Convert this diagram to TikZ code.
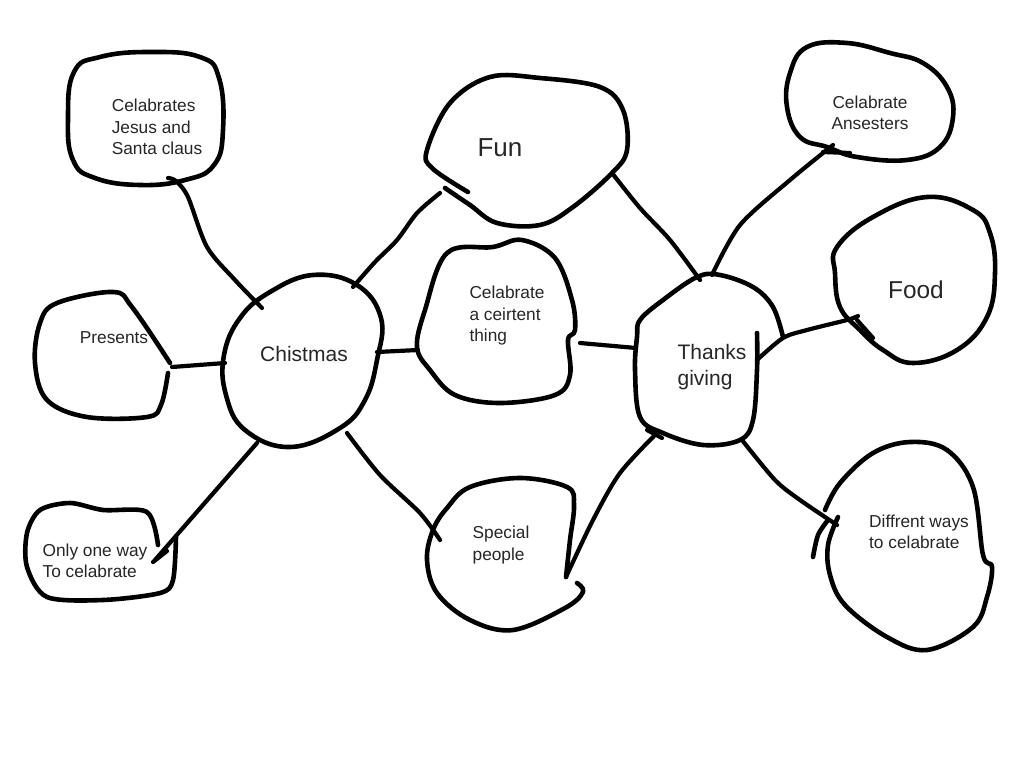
\documentclass[tikz,border=0pt]{standalone}
\usepackage{fontspec}
\setmainfont{Liberation Sans}
\begin{document}
\begin{tikzpicture}[x=1pt,y=-1pt,
  blob/.style={line width=4.6pt,line cap=round,line join=round,draw=black},
  conn/.style={line width=4.2pt,line cap=round,line join=round,draw=black},
  lbl/.style={inner sep=0pt,text=black!85,font=\fontsize{17.3}{21.5}\selectfont},
  big/.style={inner sep=0pt,text=black!85,font=\fontsize{21}{26}\selectfont}]
\useasboundingbox[fill=white] (0,0) rectangle (1024,768);

% ---------- blobs ----------
\draw[blob] plot[smooth cycle,tension=0.75] coordinates {(74,72) (100,57) (150,52) (200,57) (219,78) (223,130) (214,165) (185,180) (140,185) (95,178) (73,160) (68,118)};
\draw[blob] plot[smooth,tension=0.6] coordinates {(168,373) (161,405) (147,417) (87,417) (47,400) (35,363) (40,323) (57,303) (113,292) (132,307) (170,363)};
\draw[blob] plot[smooth cycle,tension=0.7] coordinates {(313,275) (357,285) (381,318) (377,360) (365,400) (340,428) (290,447) (245,430) (226,395) (224,355) (240,318) (270,292)};
\draw[blob] plot[smooth,tension=0.5] coordinates {(158,545) (147,512) (103,510) (70,503) (40,510) (27,533) (27,567) (47,597) (103,600) (160,593) (173,580) (176,537)};
\draw[blob] plot[smooth,tension=0.6] coordinates {(445,188) (470,205) (497,223) (540,225) (573,207) (612,173) (627,150) (623,110) (600,87) (540,78) (490,77) (450,103) (427,150) (432,168) (468,192)};
\draw[blob] plot[smooth cycle,tension=0.6] coordinates {(447,253) (493,247) (522,240) (555,258) (572,300) (575,330) (568,340) (570,375) (555,395) (500,403) (455,395) (430,370) (417,347) (425,310)};
\draw[blob] plot[smooth,tension=0.6] coordinates {(577,583) (583,592) (565,608) (513,630) (470,620) (437,593) (427,560) (433,530) (447,508) (470,487) (520,478) (567,487) (574,505) (570,540) (566,577)};
\draw[blob] plot[smooth,tension=0.6] coordinates {(757,333) (757,370) (753,420) (740,440) (703,445) (663,433) (640,417) (635,370) (637,337) (640,320) (663,300) (697,277) (720,275) (753,287) (773,307) (783,337)};
\draw[blob] plot[smooth cycle,tension=0.7] coordinates {(807,47) (847,43) (890,53) (923,63) (947,87) (953,117) (940,147) (907,160) (857,157) (827,147) (800,137) (787,107) (790,73)};
\draw[blob] plot[smooth cycle,tension=0.7] coordinates {(837,247) (873,217) (927,197) (973,210) (990,233) (995,273) (987,317) (957,350) (913,363) (883,350) (860,330) (840,307) (835,273)};
\draw[blob] plot[smooth,tension=0.6] coordinates {(838,517) (828,545) (830,575) (845,605) (887,637) (927,650) (973,627) (987,597) (992,567) (983,555) (973,487) (947,450) (910,442) (873,453) (840,483) (825,510)};
\draw[blob] plot[smooth] coordinates {(828,520) (818,535) (813,557)};

% ---------- texts ----------
\node[lbl,align=left]  (jesus) at (157,127) {Celabrates\\Jesus and\\Santa claus};
\node[lbl]             (pres)  at (114,338) {Presents};
\node[big]             (chr)   at (304,354) {Chistmas};
\node[lbl,align=left]  (one)   at (95,561)  {Only one way\\To celabrate};
\node[inner sep=0pt,text=black!85,font=\fontsize{26}{30}\selectfont] (fun) at (500,148) {Fun};
\node[lbl,align=left]  (cert)  at (507,316) {Celabrate\\a ceirtent\\thing};
\node[lbl,align=left]  (spec)  at (501,545) {Special\\people};
\node[big,align=left]  (thx)   at (712,367) {Thanks\\giving};
\node[lbl,align=center](anc)   at (870,113) {Celabrate\\Ansesters};
\node[inner sep=0pt,text=black!85,font=\fontsize{24.4}{28}\selectfont] (food) at (916,290) {Food};
\node[lbl,align=left]  (diff)  at (919,532) {Diffrent ways\\to celabrate};

% ---------- connector end points ----------
\coordinate (jes-s) at (168,178);   \coordinate (chr-nw) at (262,308);
\coordinate (pres-e) at (172,367);  \coordinate (chr-w) at (225,363);
\coordinate (chr-sw) at (257,443);  \coordinate (one-e) at (155,560);
\coordinate (chr-ne) at (353,287);  \coordinate (fun-sw) at (440,193);
\coordinate (chr-e) at (377,352);   \coordinate (cert-w) at (418,350);
\coordinate (chr-se) at (347,433);  \coordinate (spec-nw) at (440,540);
\coordinate (fun-se) at (612,173);  \coordinate (thx-n) at (700,280);
\coordinate (cert-e) at (580,343);  \coordinate (thx-w) at (636,348);
\coordinate (spec-e) at (566,577);  \coordinate (thx-sw) at (657,433);
\coordinate (thx-n2) at (712,275);  \coordinate (anc-s) at (833,145);
\coordinate (thx-e) at (757,360);   \coordinate (food-w) at (858,316);
\coordinate (thx-se) at (742,440);  \coordinate (diff-w) at (837,525);

% ---------- connectors ----------
\draw[conn] plot[smooth] coordinates {(jes-s) (176,181) (188,197) (207,247) (235,280) (chr-nw)};
\draw[conn] (pres-e) -- (chr-w);
\draw[conn] (chr-sw) -- (one-e);
\draw[conn] plot[smooth] coordinates {(chr-ne) (375,262) (397,240) (417,213) (fun-sw)};
\draw[conn] (chr-e) -- (cert-w);
\draw[conn] plot[smooth] coordinates {(chr-se) (380,475) (420,513) (spec-nw)};
\draw[conn] plot[smooth] coordinates {(fun-se) (640,208) (670,240) (thx-n)};
\draw[conn] (cert-e) -- (thx-w);
\draw[conn] plot[smooth] coordinates {(spec-e) (593,520) (620,473) (thx-sw)};
\draw[conn] plot[smooth] coordinates {(thx-n2) (740,225) (790,180) (anc-s)};
\draw[conn] plot[smooth] coordinates {(thx-e) (783,338) (807,330) (847,320) (food-w)};
\draw[conn] plot[smooth] coordinates {(thx-se) (775,480) (800,500) (diff-w)};

% ---------- small ticks ----------
\draw[conn] (647,430) -- (662,438);
\draw[conn] (823,152) -- (850,153);
\draw[conn] (857,320) -- (873,338);
\draw[conn] (153,562) -- (167,551);
\end{tikzpicture}
\end{document}
